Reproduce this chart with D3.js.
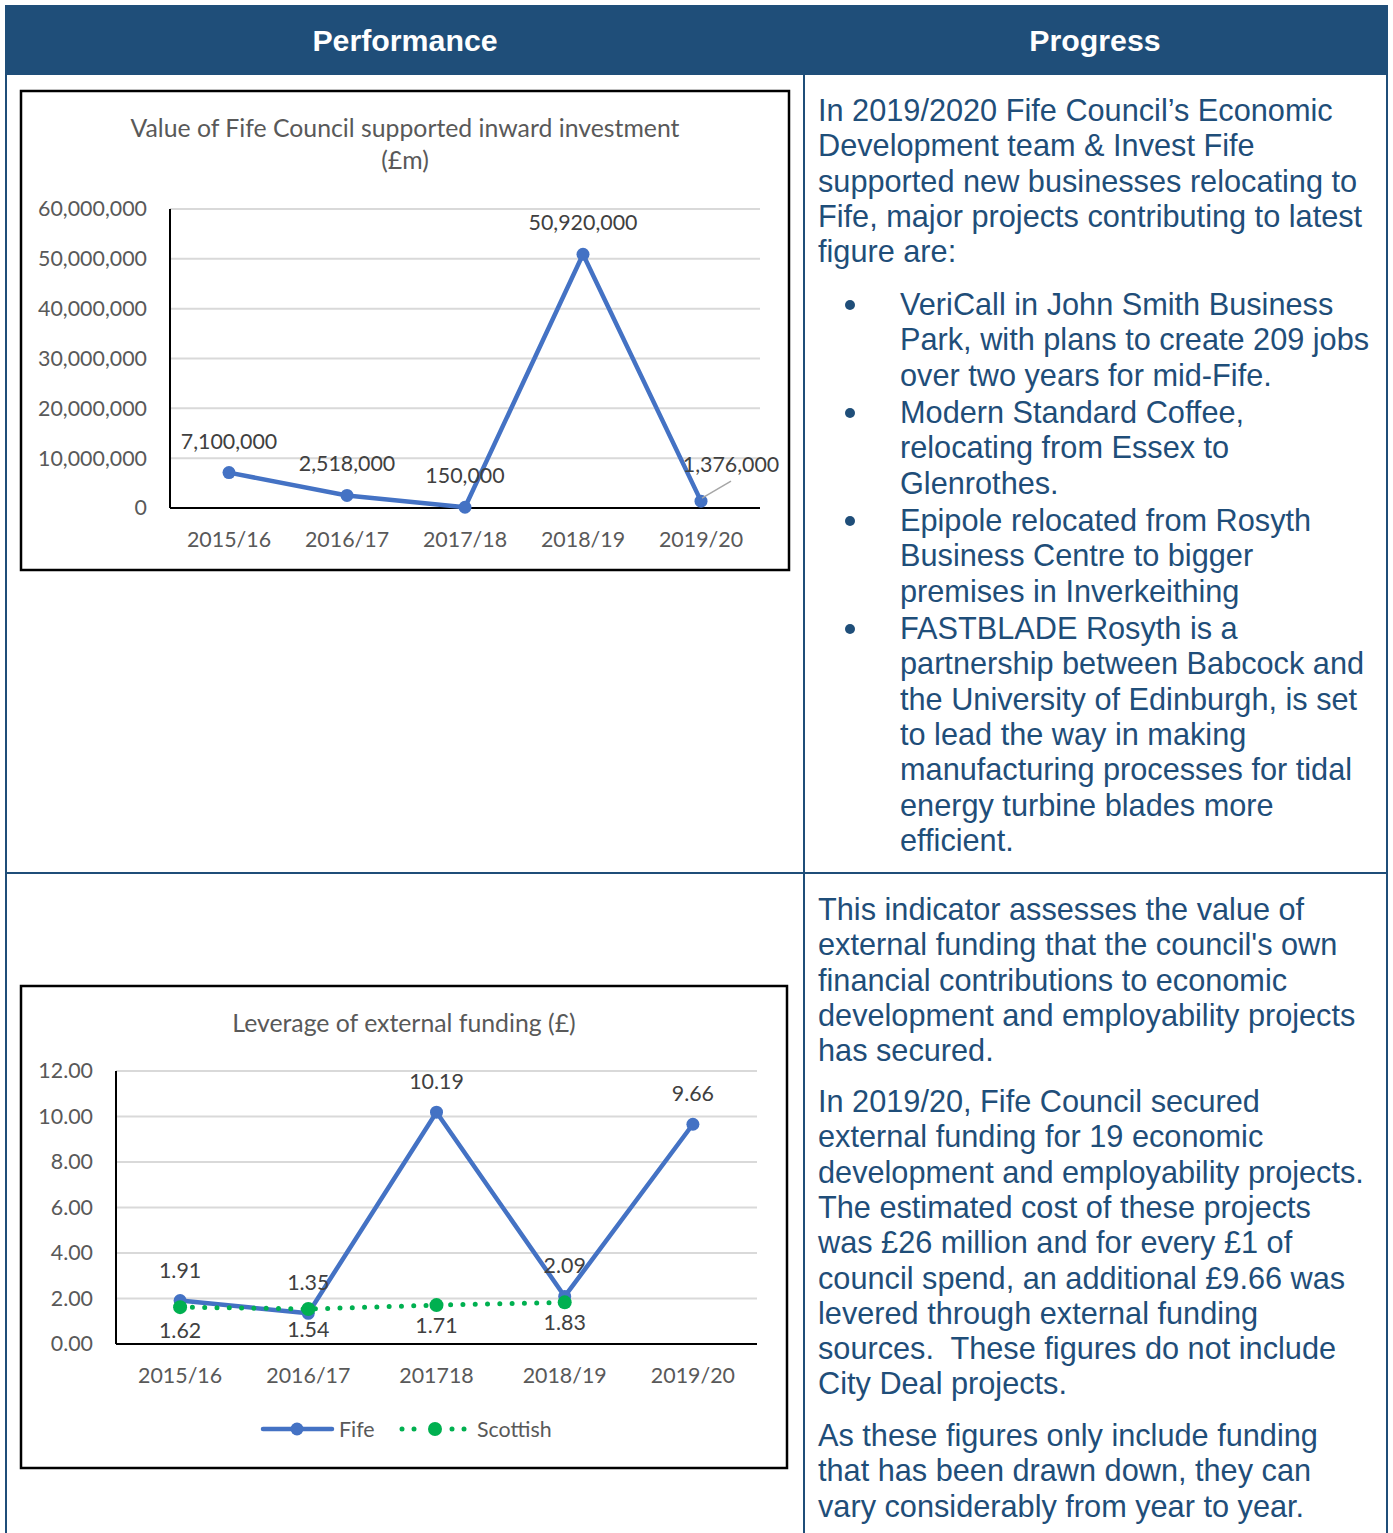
<!DOCTYPE html>
<html>
<head>
<meta charset="utf-8">
<script src="https://cdn.jsdelivr.net/npm/d3@7"></script>
<style>
  body { margin: 0; background: #fff; }
</style>
</head>
<body>
<div id="page"></div>
<script>
var w = 1393;
var h = 1533;

// chart 1 data
var years1 = ["2015/16", "2016/17", "2017/18", "2018/19", "2019/20"];
var investment = [7100000, 2518000, 150000, 50920000, 1376000];
var ticks1 = [0, 10000000, 20000000, 30000000, 40000000, 50000000, 60000000];

// chart 2 data
var years2 = ["2015/16", "2016/17", "201718", "2018/19", "2019/20"];
var fife = [1.91, 1.35, 10.19, 2.09, 9.66];
var scottish = [1.62, 1.54, 1.71, 1.83];
var ticks2 = [0, 2, 4, 6, 8, 10, 12];

// progress text
var para1 = ["In 2019/2020 Fife Council\u2019s Economic", "Development team & Invest Fife",
  "supported new businesses relocating to", "Fife, major projects contributing to latest", "figure are:"];
var bullets = [
  ["VeriCall in John Smith Business", "Park, with plans to create 209 jobs", "over two years for mid-Fife."],
  ["Modern Standard Coffee,", "relocating from Essex to", "Glenrothes."],
  ["Epipole relocated from Rosyth", "Business Centre to bigger", "premises in Inverkeithing"],
  ["FASTBLADE Rosyth is a", "partnership between Babcock and", "the University of Edinburgh, is set",
    "to lead the way in making", "manufacturing processes for tidal", "energy turbine blades more", "efficient."]
];
var para2 = ["This indicator assesses the value of", "external funding that the council's own",
  "financial contributions to economic", "development and employability projects", "has secured."];
var para3 = ["In 2019/20, Fife Council secured", "external funding for 19 economic",
  "development and employability projects.", "The estimated cost of these projects",
  "was \u00a326 million and for every \u00a31 of", "council spend, an additional \u00a39.66 was",
  "levered through external funding", "sources.\u00a0 These figures do not include", "City Deal projects."];
var para4 = ["As these figures only include funding", "that has been drawn down, they can",
  "vary considerably from year to year."];

var navy = "#1F4E79";
var blue = "#4472C4";
var green = "#00B050";
var chartFont = "Lato, 'Open Sans', sans-serif";
var textFont = "'Liberation Sans', Arial, sans-serif";

var canvas = d3.select("#page")
  .append("svg")
  .attr("width", w)
  .attr("height", h);

// ---- table frame ----
canvas.append("rect")
  .attr("x", 5).attr("y", 5).attr("width", 1383).attr("height", 70)
  .attr("fill", navy);

function vline(x, y1, y2) {
  canvas.append("line").attr("x1", x).attr("x2", x).attr("y1", y1).attr("y2", y2)
    .attr("stroke", navy).attr("stroke-width", 2);
}
vline(6, 75, h);
vline(804, 75, h);
vline(1387, 75, h);
canvas.append("line").attr("x1", 6).attr("x2", 1387).attr("y1", 873).attr("y2", 873)
  .attr("stroke", navy).attr("stroke-width", 2);

function headText(x, txt) {
  canvas.append("text")
    .attr("x", x).attr("y", 51)
    .attr("text-anchor", "middle")
    .attr("font-family", textFont)
    .attr("font-weight", "bold")
    .attr("font-size", "30.3px")
    .attr("fill", "white")
    .text(txt);
}
headText(405, "Performance");
headText(1095, "Progress");

// ---- progress text ----
var lineH = 35.3;
function block(x, yc, lines) {
  lines.forEach(function (t, i) {
    canvas.append("text")
      .attr("x", x).attr("y", yc + i * lineH + 11)
      .attr("font-family", textFont)
      .attr("font-size", "30.7px")
      .attr("fill", navy)
      .attr("xml:space", "preserve")
      .text(t);
  });
}
block(818, 110, para1);
var bulletY = [304, 412, 520, 628];
bullets.forEach(function (b, i) {
  canvas.append("circle").attr("cx", 850).attr("cy", bulletY[i] + 1).attr("r", 5).attr("fill", navy);
  block(900, bulletY[i], b);
});
block(818, 909, para2);
block(818, 1101, para3);
block(818, 1435, para4);

// ---- chart helpers ----
function chartBox(x, y, bw, bh) {
  canvas.append("rect")
    .attr("x", x).attr("y", y).attr("width", bw).attr("height", bh)
    .attr("fill", "white").attr("stroke", "black").attr("stroke-width", 2.5);
}

function chartText(x, y, txt, size, fill, anchor) {
  return canvas.append("text")
    .attr("x", x).attr("y", y)
    .attr("text-anchor", anchor || "middle")
    .attr("font-family", chartFont)
    .attr("font-size", size)
    .attr("fill", fill)
    .text(txt);
}

function drawAxes(x, y, ticks, fmt) {
  var left = x.range()[0], right = x.range()[1];
  var bottom = y.range()[0], top = y.range()[1];

  canvas.append("g").selectAll("line")
    .data(ticks.slice(1))
    .join("line")
    .attr("x1", left).attr("x2", right)
    .attr("y1", function (d) { return y(d); })
    .attr("y2", function (d) { return y(d); })
    .attr("stroke", "#D9D9D9").attr("stroke-width", 2);

  var ya = canvas.append("g")
    .attr("transform", "translate(" + left + ",0)")
    .call(d3.axisLeft(y).tickValues(ticks).tickSize(0).tickPadding(23).tickFormat(fmt));
  ya.select(".domain").remove();
  ya.selectAll("text").attr("font-family", chartFont).attr("font-size", "21.4px").attr("fill", "#595959");

  var xa = canvas.append("g")
    .attr("transform", "translate(0," + bottom + ")")
    .call(d3.axisBottom(x).tickSize(0).tickPadding(24));
  xa.select(".domain").remove();
  xa.selectAll("text").attr("font-family", chartFont).attr("font-size", "21.4px").attr("fill", "#595959");

  canvas.append("line").attr("x1", left).attr("x2", left).attr("y1", top).attr("y2", bottom)
    .attr("stroke", "black").attr("stroke-width", 2);
  canvas.append("line").attr("x1", left).attr("x2", right).attr("y1", bottom).attr("y2", bottom)
    .attr("stroke", "black").attr("stroke-width", 2);
}

// ---- chart 1 ----
chartBox(21, 91, 768, 479);
chartText(405, 137, "Value of Fife Council supported inward investment", "24.8px", "#595959");
chartText(405, 169, "(\u00a3m)", "24.8px", "#595959");

var x1 = d3.scaleBand().domain(years1).range([170, 760]);
var y1 = d3.scaleLinear().domain([0, 60000000]).range([508, 209]);
function cx1(d) { return x1(d) + x1.bandwidth() / 2; }

drawAxes(x1, y1, ticks1, d3.format(","));

var pts1 = years1.map(function (d, i) { return { year: d, v: investment[i] }; });

canvas.append("path")
  .datum(pts1)
  .attr("d", d3.line().x(function (d) { return cx1(d.year); }).y(function (d) { return y1(d.v); }))
  .attr("fill", "none").attr("stroke", blue).attr("stroke-width", 4.5)
  .attr("stroke-linejoin", "round");

canvas.append("g").selectAll("circle")
  .data(pts1)
  .join("circle")
  .attr("cx", function (d) { return cx1(d.year); })
  .attr("cy", function (d) { return y1(d.v); })
  .attr("r", 6.5)
  .attr("fill", blue);

// leader line for last label
var last = pts1[pts1.length - 1];
canvas.append("line")
  .attr("x1", cx1(last.year) + 1).attr("y1", y1(last.v) - 3)
  .attr("x2", cx1(last.year) + 30).attr("y2", y1(last.v) - 20)
  .attr("stroke", "#A6A6A6").attr("stroke-width", 1.5);

canvas.append("g").selectAll("text")
  .data(pts1)
  .join("text")
  .attr("x", function (d, i) { return cx1(d.year) + (i === pts1.length - 1 ? 30 : 0); })
  .attr("y", function (d, i) { return y1(d.v) - (i === pts1.length - 1 ? 29 : 24); })
  .attr("text-anchor", "middle")
  .attr("font-family", chartFont)
  .attr("font-size", "21.4px")
  .attr("fill", "#404040")
  .text(function (d) { return d3.format(",")(d.v); });

// ---- chart 2 ----
chartBox(21, 986, 766, 482);
chartText(404, 1032, "Leverage of external funding (\u00a3)", "24.8px", "#595959");

var x2 = d3.scaleBand().domain(years2).range([116, 757]);
var y2 = d3.scaleLinear().domain([0, 12]).range([1344, 1071]);
function cx2(d) { return x2(d) + x2.bandwidth() / 2; }

drawAxes(x2, y2, ticks2, d3.format(".2f"));

var fifePts = years2.map(function (d, i) { return { year: d, v: fife[i] }; });
var scotPts = scottish.map(function (v, i) { return { year: years2[i], v: v }; });

var line2 = d3.line().x(function (d) { return cx2(d.year); }).y(function (d) { return y2(d.v); });

canvas.append("path")
  .datum(fifePts)
  .attr("d", line2)
  .attr("fill", "none").attr("stroke", blue).attr("stroke-width", 4.5)
  .attr("stroke-linejoin", "round");

canvas.append("g").selectAll("circle")
  .data(fifePts)
  .join("circle")
  .attr("cx", function (d) { return cx2(d.year); })
  .attr("cy", function (d) { return y2(d.v); })
  .attr("r", 6.5)
  .attr("fill", blue);

canvas.append("path")
  .datum(scotPts)
  .attr("d", line2)
  .attr("fill", "none").attr("stroke", green).attr("stroke-width", 5)
  .attr("stroke-linecap", "round").attr("stroke-dasharray", "0 12.3");

canvas.append("g").selectAll("circle")
  .data(scotPts)
  .join("circle")
  .attr("cx", function (d) { return cx2(d.year); })
  .attr("cy", function (d) { return y2(d.v); })
  .attr("r", 7)
  .attr("fill", green);

canvas.append("g").selectAll("text")
  .data(fifePts)
  .join("text")
  .attr("x", function (d) { return cx2(d.year); })
  .attr("y", function (d) { return y2(d.v) - 23; })
  .attr("text-anchor", "middle")
  .attr("font-family", chartFont)
  .attr("font-size", "21.4px")
  .attr("fill", "#404040")
  .text(function (d) { return d.v.toFixed(2); });

canvas.append("g").selectAll("text")
  .data(scotPts)
  .join("text")
  .attr("x", function (d) { return cx2(d.year); })
  .attr("y", function (d, i) { return y2(d.v) + (i === 0 ? 31 : 28); })
  .attr("text-anchor", "middle")
  .attr("font-family", chartFont)
  .attr("font-size", "21.4px")
  .attr("fill", "#404040")
  .text(function (d) { return d.v.toFixed(2); });

// legend
var legY = 1429;
canvas.append("line").attr("x1", 263).attr("x2", 332).attr("y1", legY).attr("y2", legY)
  .attr("stroke", blue).attr("stroke-width", 4.5).attr("stroke-linecap", "round");
canvas.append("circle").attr("cx", 297).attr("cy", legY).attr("r", 6.5).attr("fill", blue);
chartText(339, legY + 8, "Fife", "21.4px", "#595959", "start");

canvas.append("g").selectAll("circle")
  .data([402, 414, 452, 464])
  .join("circle")
  .attr("cx", function (d) { return d; })
  .attr("cy", legY)
  .attr("r", 2.5)
  .attr("fill", green);
canvas.append("circle").attr("cx", 435).attr("cy", legY).attr("r", 7).attr("fill", green);
chartText(477, legY + 8, "Scottish", "21.4px", "#595959", "start");
</script>
</body>
</html>
